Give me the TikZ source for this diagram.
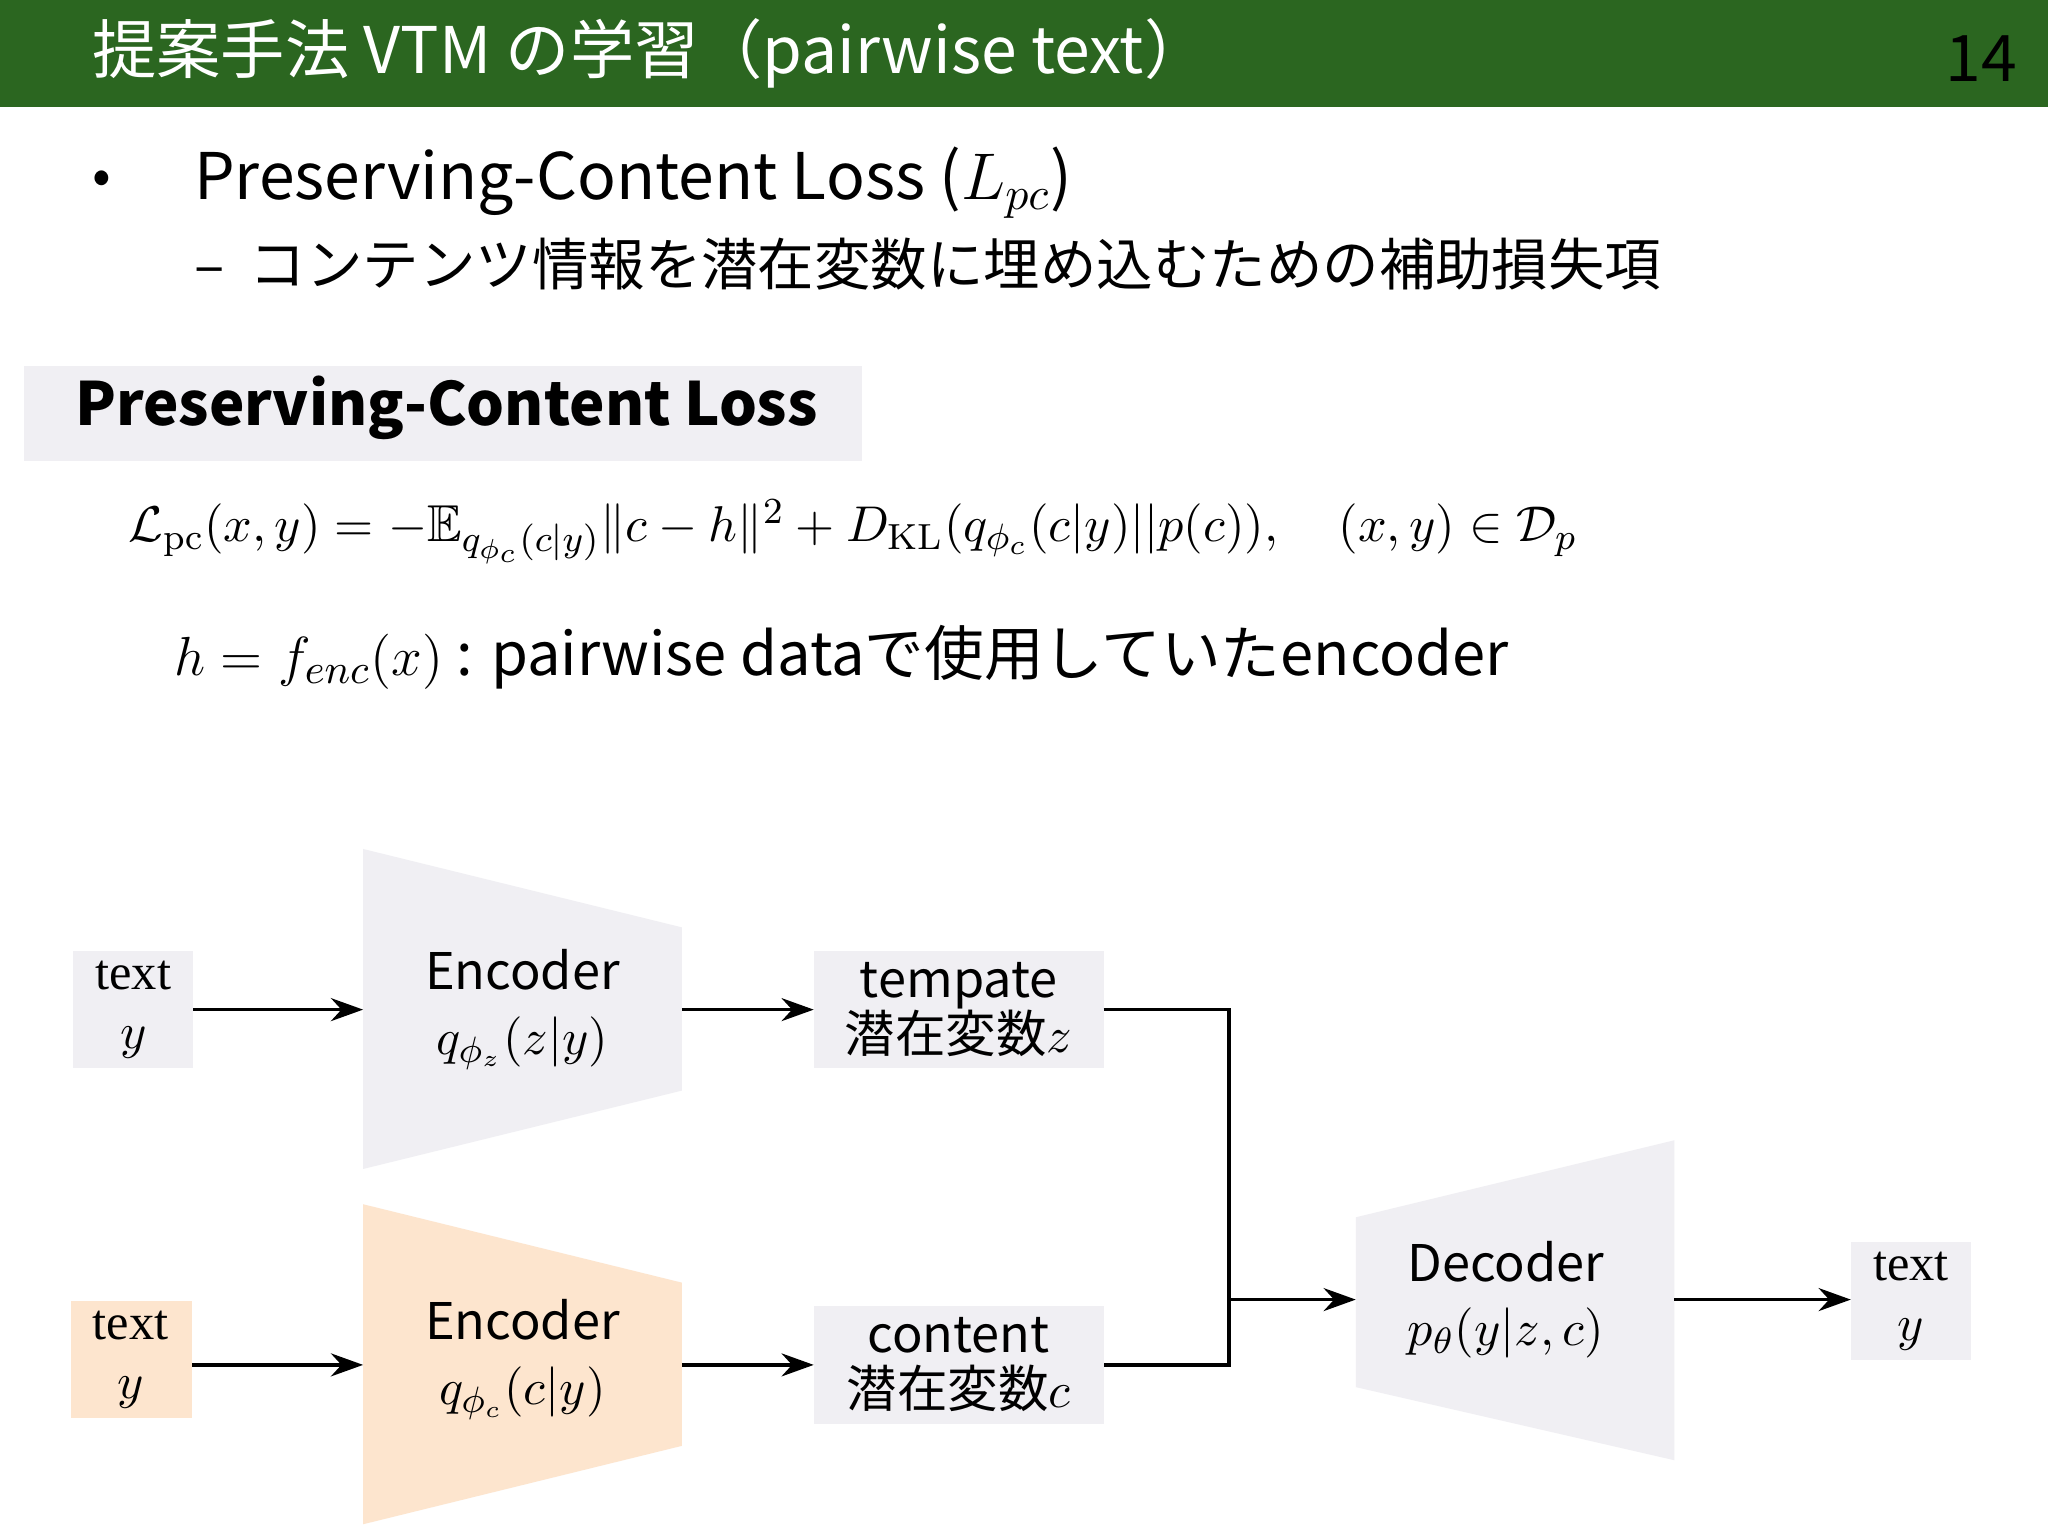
\documentclass[tikz,border=0pt]{standalone}
\usepackage{amsmath,amssymb}
\usepackage{fontspec}
\setmainfont{Noto Sans CJK JP}
\setmathrm{Latin Modern Roman}
\newfontfamily\serifx{Liberation Serif}
\usetikzlibrary{arrows.meta}
\definecolor{titlegreen}{HTML}{2B6620}
\definecolor{boxgray}{HTML}{F0EFF3}
\definecolor{peach}{HTML}{FDE5CE}
\tikzset{
  lbl/.style={inner sep=0pt, align=center},
  arr/.style={-{Stealth[length=7pt,width=5pt]}, line width=0.8pt},
  ln/.style={line width=0.8pt},
  diag/.style={lbl},
  dfont/.style={font=\fontsize{11}{12}\selectfont},
  sfont/.style={font=\serifx\fontsize{11}{12}\selectfont},
}
\begin{document}
\begin{tikzpicture}[x=1cm,y=1cm]
\useasboundingbox (0,0) rectangle (15.68,-11.76);
\fill[white] (0,0) rectangle (15.68,-11.76);
% title
\fill[titlegreen] (0,0) rectangle (15.68,-0.82);
\node[lbl, anchor=west, text=white, font=\fontsize{14}{16}\selectfont] (title) at (0.7,-0.41) {提案手法 VTM の学習（pairwise text）};
\node[lbl, anchor=east, text=black, font=\fontsize{14}{16}\selectfont] (pnum) at (15.45,-0.45) {14};
% bullets
\node[lbl, anchor=center, font=\fontsize{12}{14}\selectfont] (dot) at (0.78,-1.40) {•};
\node[lbl, anchor=west, font=\fontsize{14}{16}\selectfont] (b1) at (1.48,-1.40) {Preserving-Content Loss ($L_{pc}$)};
\node[lbl, anchor=west, font=\fontsize{12.3}{14}\selectfont] (b2) at (1.48,-2.02) {–\ \ コンテンツ情報を潜在変数に埋め込むための補助損失項};
% gray heading box
\fill[boxgray] (0.18,-2.80) rectangle (6.60,-3.53);
\node[lbl, anchor=west, font=\fontsize{13}{15}\selectfont\bfseries] (head) at (0.57,-3.12) {Preserving-Content Loss};
% formula
\node[lbl, anchor=west, font=\fontsize{11.3}{13}\selectfont] (eq) at (0.98,-4.07)
 {$\mathcal{L}_{\mathrm{pc}}(x,y) = -\mathbb{E}_{q_{\phi_c}(c|y)}\|c-h\|^2 + D_{\mathrm{KL}}(q_{\phi_c}(c|y)||p(c)),\quad (x,y)\in\mathcal{D}_p$};
\node[lbl, anchor=west, font=\fontsize{13}{15}\selectfont] (hdef) at (1.33,-5.03)
 {$h = f_{enc}(x)$ : pairwise dataで使用していたencoder};
% boxes
\fill[boxgray] (0.56,-7.28) rectangle (1.48,-8.18);
\node[diag, sfont] (in1) at (1.02,-7.73) {text\\[1pt]$y$};
\fill[peach] (0.54,-9.96) rectangle (1.47,-10.86);
\node[diag, sfont] (in2) at (1.00,-10.41) {text\\[1pt]$y$};
% encoders
\fill[boxgray] (2.78,-6.50) -- (5.22,-7.10) -- (5.22,-8.35) -- (2.78,-8.95) -- cycle;
\node[diag, dfont] (enc1) at (4.00,-7.73) {Encoder\\[2pt]$q_{\phi_z}(z|y)$};
\fill[peach] (2.78,-9.22) -- (5.22,-9.82) -- (5.22,-11.07) -- (2.78,-11.67) -- cycle;
\node[diag, dfont] (enc2) at (4.00,-10.41) {Encoder\\[2pt]$q_{\phi_c}(c|y)$};
% latent boxes
\fill[boxgray] (6.23,-7.28) rectangle (8.45,-8.18);
\node[diag, dfont] (tz) at (7.34,-7.73) {tempate\\潜在変数$z$};
\fill[boxgray] (6.23,-10.00) rectangle (8.45,-10.90);
\node[diag, dfont] (cc) at (7.34,-10.45) {content\\潜在変数$c$};
% decoder
\fill[boxgray] (10.38,-9.32) -- (12.82,-8.73) -- (12.82,-11.18) -- (10.38,-10.62) -- cycle;
\node[diag, dfont] (dec) at (11.53,-9.95) {Decoder\\[2pt]$p_\theta(y|z,c)$};
\fill[boxgray] (14.17,-9.51) rectangle (15.09,-10.41);
\node[diag, sfont] (out) at (14.63,-9.96) {text\\[1pt]$y$};
% connector coordinates
\coordinate (in1e) at (1.48,-7.73);
\coordinate (enc1w) at (2.78,-7.73);
\coordinate (enc1e) at (5.22,-7.73);
\coordinate (tzw) at (6.23,-7.73);
\coordinate (tze) at (8.45,-7.73);
\coordinate (in2e) at (1.47,-10.45);
\coordinate (enc2w) at (2.78,-10.45);
\coordinate (enc2e) at (5.22,-10.45);
\coordinate (ccw) at (6.23,-10.45);
\coordinate (cce) at (8.45,-10.45);
\coordinate (jn) at (9.41,-9.95);
\coordinate (decw) at (10.38,-9.95);
\coordinate (dece) at (12.82,-9.95);
\coordinate (outw) at (14.17,-9.95);
\draw[arr] (in1e) -- (enc1w);
\draw[arr] (enc1e) -- (tzw);
\draw[arr] (in2e) -- (enc2w);
\draw[arr] (enc2e) -- (ccw);
\draw[ln] (tze) -| (jn) |- (cce);
\draw[arr] (jn) -- (decw);
\draw[arr] (dece) -- (outw);
\end{tikzpicture}
\end{document}
